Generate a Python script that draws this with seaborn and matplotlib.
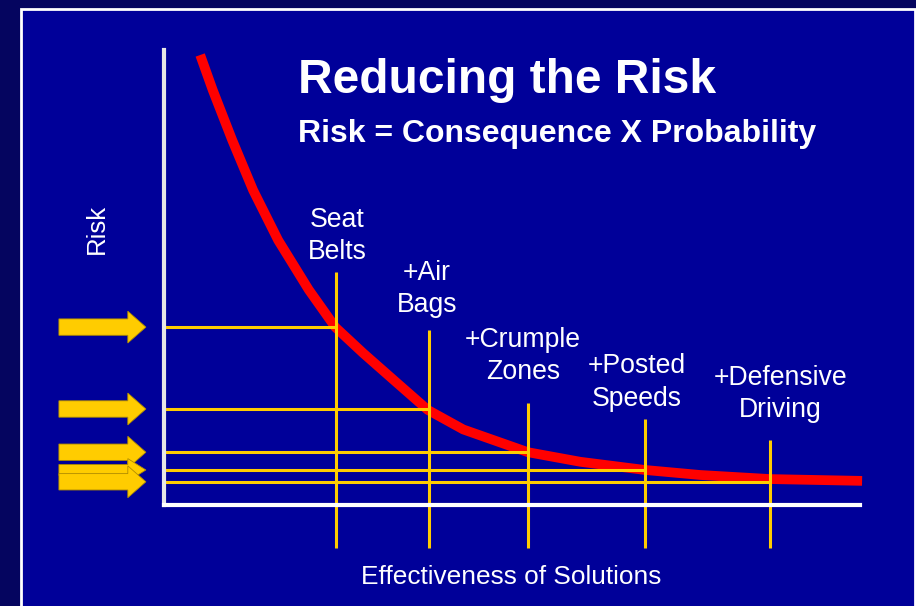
import matplotlib
matplotlib.use("Agg")
import matplotlib.pyplot as plt
from matplotlib.patches import Rectangle
import seaborn as sns

# risk curve (effectiveness 0-10, risk 0-10)
curve_x = [0.52, 0.70, 0.98, 1.28, 1.64, 2.08, 2.46, 2.86, 3.35, 3.79, 4.30,
           5.23, 5.98, 6.91, 7.70, 8.71, 10.03]
curve_y = [9.89, 9.12, 8.02, 6.92, 5.82, 4.73, 3.91, 3.34, 2.68, 2.09, 1.66,
           1.16, 0.95, 0.77, 0.66, 0.57, 0.53]

# solutions along the x axis
solutions = ["Seat\nBelts", "+Air\nBags", "+Crumple\nZones", "+Posted\nSpeeds", "+Defensive\nDriving"]
solution_x = [2.47, 3.81, 5.23, 6.91, 8.71]
solution_top = [5.12, 3.85, 2.24, 1.89, 1.43]
risk_levels = [3.91, 2.11, 1.16, 0.77, 0.51]

# label nudges (points) so the text sits where it does on the slide
label_dx = [0.7, -1.4, -3.6, -5.8, 7.2]
label_dy = [5.2, 8.6, 13, 5.3, 12]

BG = "#000099"
YELLOW = "#FFCC00"
W, H = 916, 606

sns.set_theme(style="white")
plt.rcParams["font.family"] = ["Liberation Sans", "DejaVu Sans"]

fig = plt.figure(figsize=(W / 100, H / 100), dpi=100)
fig.patch.set_facecolor("#05055f")
fig.add_artist(Rectangle((20.5 / W, -0.05), (914.5 - 20.5) / W, 1.05 - 9.5 / H,
                         transform=fig.transFigure, facecolor=BG, edgecolor="white",
                         lw=2, zorder=-10))

ax = fig.add_axes([164 / W, 1 - 505 / H, (860 - 164) / W, (505 - 50) / H])
ax.patch.set_alpha(0)
ax.set_xlim(0, 10)
ax.set_ylim(0, 10)
ax.set_xticks([])
ax.set_yticks([])
for side in ["top", "right"]:
    ax.spines[side].set_visible(False)
ax.spines["left"].set_color("#e6e6e6")
ax.spines["bottom"].set_color("white")
ax.spines["left"].set_linewidth(3)
ax.spines["bottom"].set_linewidth(3)
ax.spines["left"].set_zorder(5)
ax.spines["bottom"].set_zorder(5)

# yellow guide lines
ax.hlines(risk_levels, 0, solution_x, color=YELLOW, lw=2.2, zorder=3, clip_on=False)
ax.vlines(solution_x, -0.95, solution_top, color=YELLOW, lw=2.2, zorder=3, clip_on=False)

# the red risk curve
sns.lineplot(x=curve_x, y=curve_y, sort=False, color="#FF0000", lw=7, ax=ax,
             zorder=2, clip_on=False, solid_capstyle="butt", solid_joinstyle="round")

# arrows pointing at the risk levels
for i, lvl in enumerate(risk_levels):
    small = i == 3
    ax.arrow(-1.51, lvl, 1.25, 0, width=0.24 if small else 0.36,
             head_width=0.5 if small else 0.70, head_length=0.26,
             length_includes_head=True, facecolor=YELLOW, edgecolor="#b08c00",
             lw=0.6, clip_on=False, zorder=4 + i)

for label, x, top, dx, dy in zip(solutions, solution_x, solution_top, label_dx, label_dy):
    ax.annotate(label, (x, top), xytext=(dx, dy), textcoords="offset points",
                ha="center", va="bottom", color="white", fontsize=19.2,
                linespacing=1.31)

fig.text(298 / W, 1 - 93 / H, "Reducing the Risk", color="white", fontsize=34.5,
         fontweight="bold", va="baseline", ha="left")
fig.text(298 / W, 1 - 142 / H, "Risk = Consequence X Probability", color="white",
         fontsize=23, fontweight="bold", va="baseline", ha="left")
fig.text(97 / W, 1 - 229 / H, "Risk", color="white", fontsize=18.5, rotation=90,
         ha="center", va="center")
fig.text(511 / W, 1 - 577 / H, "Effectiveness of Solutions", color="white",
         fontsize=18.9, ha="center", va="center")

fig.savefig("out.png", dpi=100, facecolor=fig.get_facecolor())
